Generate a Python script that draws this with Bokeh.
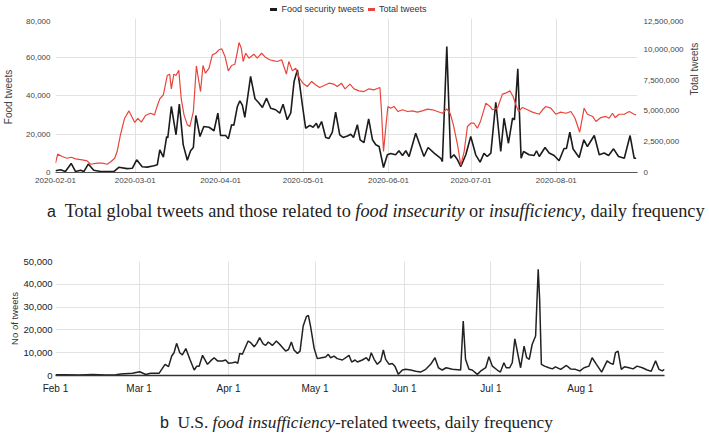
import math
import pandas as pd
from bokeh.plotting import figure
from bokeh.models import (LinearAxis, Range1d, FixedTicker, NumeralTickFormatter, Div)
from bokeh.layouts import column
from bokeh.embed import file_html
from bokeh.resources import INLINE

# ---------------- data ----------------
START = "2020-02-01"
month_ticks = ["2020-02-01", "2020-03-01", "2020-04-01", "2020-05-01",
               "2020-06-01", "2020-07-01", "2020-08-01"]
top_tick_labels = month_ticks
bottom_tick_labels = ["Feb 1", "Mar 1", "Apr 1", "May 1", "Jun 1", "Jul 1", "Aug 1"]
series_names = ["Food security tweets", "Total tweets"]
series_colors = ["#1c1c1c", "#e8453c"]

# days since 2020-02-01
food_days = [0, 1.8, 3.6, 5.7, 7.3, 9.1, 10.3, 11.9, 13.9, 16.4, 21.2, 23, 26, 27.9, 29.5,
             31.5, 33.3, 35.8, 37, 37.9, 39.2, 40.4, 40.8, 42.1, 43.8, 45, 46.4, 47.9, 49.1,
             50.1, 51, 52.5, 53.9, 55.8, 57.6, 59, 60, 61.8, 62.8, 64, 64.8, 66.1, 67, 67.9,
             68.8, 70.9, 72.5, 73.7, 75.2, 76.7, 78.2, 80, 81.5, 82.7, 84.2, 85.5, 86.7, 87.9,
             88.7, 89.7, 90.9, 92.4, 93.6, 94.8, 95.5, 96.7, 98.2, 99.4, 100.6, 101.8, 103.3,
             104.5, 106.1, 107.3, 108.3, 109.7, 110.7, 112.1, 113.8, 115.2, 116.4, 117.6,
             119.2, 120.6, 121.8, 123.6, 124.8, 126.1, 127.3, 128.5, 130.9, 132.7, 133.9,
             135.4, 137.6, 140, 140.6, 142.2, 143.6, 144.8, 146.1, 147.3, 149.1, 150.9,
             152.7, 154.3, 155.7, 156.9, 158.2, 160, 161.8, 163, 164.6, 166.1, 166.8, 168,
             169.2, 170.1, 172.1, 173.9, 174.8, 175.8, 177.9, 179.4, 181.2, 183, 184.8,
             185.7, 186.9, 188.1, 190.3, 192, 193.3, 195.8, 197.6, 199.4, 201, 202.8, 204.6,
             206.7, 208.8, 210.3, 211]
food_tweets = [900, 1400, 500, 4700, 500, 1200, 500, 4400, 1200, 500, 500, 2700, 2000, 2200,
               6600, 3000, 2800, 3500, 4000, 11800, 8000, 18700, 18000, 34300, 19600, 35500,
               14500, 6400, 11300, 13000, 29600, 18700, 23900, 23500, 21700, 30800, 19200,
               19200, 17500, 24800, 24500, 34300, 37200, 35000, 28600, 49900, 38300, 36500,
               33800, 38600, 33400, 32600, 30800, 35500, 27400, 31000, 47300, 53300, 46000,
               35200, 23000, 24500, 23500, 25600, 23000, 26500, 18200, 17700, 21000, 31300,
               19600, 18200, 19000, 19900, 18200, 24800, 17000, 15500, 27900, 17000, 14400,
               13500, 2600, 9200, 9900, 9200, 11300, 8800, 11300, 8300, 20400, 13100, 8300,
               13000, 10100, 7400, 5700, 65500, 7400, 9200, 6600, 3100, 9200, 18700, 9200,
               5400, 9900, 8300, 10100, 36500, 10900, 28200, 15200, 28200, 27400, 53900,
               7400, 10900, 9200, 8800, 11300, 8300, 13000, 10100, 8800, 6100, 12500, 12500,
               20900, 12200, 7800, 17000, 13500, 19200, 9200, 10100, 8800, 12300, 8300, 7400,
               19200, 7400, 7400]

total_days = [0, 0.8, 2.4, 4.2, 5.7, 7.3, 9.7, 11.5, 12.7, 15.2, 17, 18.8, 20.2, 21.5, 22.4,
              23.6, 25.1, 26.7, 27.9, 28.8, 29.9, 31.2, 32.7, 34.5, 36, 36.7, 37.9, 39.2,
              40.6, 41.5, 42.1, 43, 43.8, 44.8, 45.7, 46.7, 47.9, 48.8, 50.1, 51.2, 51.9,
              52.7, 53.6, 54.5, 55.8, 57, 58.2, 59.4, 60.4, 61.6, 62.8, 64, 65.2, 66.1, 66.7,
              67.5, 68.2, 69.1, 70.3, 72.1, 73.3, 74.9, 76.4, 77.8, 79.4, 80.6, 82.2, 83,
              83.9, 84.8, 86.1, 87.3, 88.5, 89.9, 91.5, 93.1, 94.5, 96, 97.6, 99.4, 101.2,
              102.4, 103.9, 105.2, 107, 108.5, 110.3, 112.1, 113.9, 115.7, 117.2, 117.9,
              118.4, 119.2, 120, 120.8, 121.8, 123, 124.5, 126.1, 127.9, 129.7, 131.5, 133.3,
              135.2, 137, 138.8, 140.6, 142.2, 143.4, 144.6, 146.1, 147.3, 148.5, 149.7,
              150.9, 152.1, 153.3, 154.5, 156.4, 157.9, 158.8, 160.6, 162.4, 163.6, 165.1,
              166.3, 167.3, 168.3, 169.7, 171.5, 173.3, 175.8, 177, 178.2, 180, 181.8, 183.6,
              185.5, 187.3, 188.8, 190.5, 192.1, 193.3, 195.2, 196.4, 198.2, 200, 201.2,
              202.4, 203.4, 204.8, 206.7, 208.5, 210.3, 211]
total_tweets = [755e3, 1.49e6, 1.30e6, 1.16e6, 1.24e6, 1.11e6, 1.03e6, 0.95e6, 0.67e6,
                0.76e6, 0.76e6, 0.67e6, 0.89e6, 1.16e6, 1.70e6, 3.06e6, 4.40e6, 5.00e6,
                4.46e6, 4.06e6, 4.40e6, 4.09e6, 4.63e6, 4.81e6, 4.68e6, 5.22e6, 5.98e6,
                6.31e6, 7.87e6, 7.98e6, 6.79e6, 7.98e6, 7.87e6, 8.30e6, 5.98e6, 4.68e6,
                3.87e6, 3.73e6, 4.95e6, 8.65e6, 7.65e6, 6.57e6, 8.69e6, 8.06e6, 8.47e6,
                9.55e6, 9.68e6, 9.96e6, 10.04e6, 9.42e6, 8.25e6, 8.69e6, 8.79e6, 9.82e6,
                10.55e6, 10.09e6, 9.01e6, 9.68e6, 9.28e6, 9.60e6, 9.28e6, 9.68e6, 9.33e6,
                9.15e6, 9.06e6, 9.01e6, 9.15e6, 8.60e6, 7.98e6, 9.01e6, 8.25e6, 8.47e6,
                7.71e6, 7.25e6, 6.98e6, 7.39e6, 7.12e6, 6.90e6, 7.06e6, 7.25e6, 7.17e6,
                6.98e6, 7.25e6, 6.79e6, 7.17e6, 6.79e6, 6.63e6, 6.57e6, 6.79e6, 6.71e6,
                6.84e6, 6.90e6, 5.22e6, 1.70e6, 3.60e6, 5.36e6, 5.22e6, 5.36e6, 4.95e6,
                5.09e6, 4.95e6, 5.00e6, 4.90e6, 5.00e6, 5.14e6, 5.09e6, 4.95e6, 4.81e6,
                5.17e6, 4.81e6, 3.87e6, 2.25e6, 0.57e6, 1.70e6, 3.73e6, 4.00e6, 4.00e6,
                3.60e6, 4.19e6, 5.63e6, 5.36e6, 5.09e6, 5.22e6, 6.36e6, 6.44e6, 6.63e6,
                6.17e6, 5.49e6, 4.95e6, 5.28e6, 5.09e6, 4.90e6, 4.73e6, 5.09e6, 5.36e6,
                5.22e6, 4.73e6, 4.90e6, 4.81e6, 4.95e6, 4.40e6, 3.27e6, 5.22e6, 4.73e6,
                4.55e6, 4.14e6, 4.46e6, 4.55e6, 4.40e6, 4.81e6, 4.46e6, 4.73e6, 4.73e6,
                4.95e6, 4.73e6, 4.68e6]

us_days = [0, 3.6, 8.2, 12.8, 17.4, 20.9, 22.6, 26.7, 29.2, 31.3, 33, 35.9, 38, 39.2, 40.3,
           41.1, 42, 43.1, 44, 45.2, 46.6, 48.1, 49, 49.8, 51, 52.7, 53.8, 55, 56.2, 57.9,
           59, 60, 61.4, 62.5, 63.2, 63.9, 64.8, 66.8, 67.7, 68.9, 69.8, 70.8, 72, 72.9,
           73.8, 75.2, 76.6, 78.1, 79.8, 80.8, 81.8, 82.7, 83.9, 84.8, 85.9, 87, 87.7, 88.5,
           89.7, 90.8, 92.3, 93.7, 94.6, 95.4, 96.6, 97.7, 99.5, 101.8, 102.7, 103.9, 104.7,
           106.4, 107.8, 108.7, 109.5, 110.5, 111.6, 112.8, 113.7, 114.5, 115.7, 116.8,
           117.7, 118.9, 120.3, 121.4, 123.2, 124.9, 126.6, 128.4, 130.1, 131.6, 132.8,
           134.1, 135.5, 137.6, 140.5, 141.4, 142.2, 143.4, 144.5, 146.3, 147.4, 149.2,
           150.3, 151.5, 153.2, 154.3, 155.5, 156.3, 157.5, 158.4, 159.3, 160.4, 161.3,
           162.5, 163.4, 164.3, 165.3, 166.5, 167.4, 167.9, 168.5, 169.6, 171.1, 172.3,
           173.4, 175.2, 177.2, 178.6, 180.3, 181.9, 183.3, 185, 186.1, 187.6, 189.4, 191.3,
           192.5, 193.4, 194.2, 195.1, 196.2, 197.3, 198.9, 200.3, 201.7, 203.5, 205.2,
           206.6, 208.1, 209.3, 210.4, 211.2]
us_tweets = [300, 300, 250, 400, 250, 300, 650, 950, 1650, 440, 950, 950, 4900, 3900, 8550,
             10000, 14100, 10000, 9000, 11800, 7100, 2400, 4100, 4100, 8850, 4900, 6400, 7800,
             6400, 6400, 6800, 5350, 5600, 5900, 5350, 9700, 9300, 15100, 14400, 12600, 14100,
             16600, 13900, 13200, 14700, 13200, 15100, 13200, 10700, 11400, 14700, 11200,
             9700, 10700, 21700, 25800, 26400, 21200, 11900, 7400, 7800, 8100, 9300, 7800,
             8500, 7400, 6800, 8850, 5900, 6800, 5900, 6800, 7800, 6400, 10000, 7100, 4900,
             6400, 11200, 7100, 4900, 5300, 4100, 500, 2400, 2700, 2400, 1900, 1500, 2700,
             4900, 7800, 3400, 2400, 3400, 2700, 2400, 23900, 7100, 2700, 2400, 500, 1900,
             3400, 8250, 4100, 2400, 1500, 5600, 3400, 3400, 5600, 16100, 9000, 3400, 12900,
             7800, 7100, 13600, 17300, 46600, 33400, 4900, 4100, 3400, 2900, 3800, 2700, 4400,
             2900, 2700, 2000, 3400, 4100, 7800, 4900, 1500, 6400, 5300, 4900, 10000, 10700,
             2700, 3800, 3400, 2900, 4100, 3400, 2400, 1900, 6400, 2700, 2000, 2700]

food_ticks = [0, 20000, 40000, 60000, 80000]
total_ticks = [0, 2500000, 5000000, 7500000, 10000000, 12500000]
us_ticks = [0, 10000, 20000, 30000, 40000, 50000]

tick_days = [(pd.Timestamp(d) - pd.Timestamp(START)).days for d in month_ticks]

SANS = "Liberation Sans"
GRID = "#e2e2e2"


def style_axis(ax, tick_size, tick_color, label_size, label_color):
    ax.major_tick_line_color = None
    ax.minor_tick_line_color = None
    ax.major_tick_out = 0
    ax.major_tick_in = 0
    ax.minor_tick_out = 0
    ax.minor_tick_in = 0
    ax.major_label_text_font = SANS
    ax.major_label_text_font_size = tick_size
    ax.major_label_text_color = tick_color
    ax.axis_label_text_font = SANS
    ax.axis_label_text_font_size = label_size
    ax.axis_label_text_font_style = "normal"
    ax.axis_label_text_color = label_color


# ---------------- legend (above panel a) ----------------
legend_html = "".join(
    "<span style=\"display:inline-block;width:7px;height:3px;background:%s;"
    "vertical-align:middle;margin:0 4px 1px 4px;\"></span>%s" % (c, n)
    for n, c in zip(series_names, series_colors))
legend_div = Div(text=("<div style=\"font-family:'Liberation Sans',sans-serif;font-size:9px;"
                       "line-height:11px;color:#333;white-space:nowrap;width:681px;"
                       "padding-left:12px;padding-top:1px;text-align:center;\">"
                       + legend_html + "</div>"),
                 width=693, height=18, margin=(0, 0, 0, 0))

# ---------------- panel a ----------------
p1 = figure(frame_width=582, frame_height=154, output_backend="svg", toolbar_location=None,
            x_range=Range1d(0, 211.5), y_range=Range1d(0, 80000),
            min_border_left=47, min_border_right=60, min_border_top=0,
            min_border_bottom=21)
p1.outline_line_color = None
p1.extra_y_ranges = {"total": Range1d(0, 12500000)}

p1.line(food_days, food_tweets, line_color=series_colors[0], line_width=1.6)
p1.line(total_days, total_tweets, line_color=series_colors[1], line_width=1.2,
        y_range_name="total")

p1.xaxis.ticker = FixedTicker(ticks=tick_days)
p1.xaxis.major_label_overrides = {d: lab for d, lab in zip(tick_days, top_tick_labels)}
p1.yaxis.ticker = FixedTicker(ticks=food_ticks)
p1.yaxis.formatter = NumeralTickFormatter(format="0,0")
p1.yaxis.axis_label = "Food  tweets"

ax_r = LinearAxis(y_range_name="total", ticker=FixedTicker(ticks=total_ticks),
                  formatter=NumeralTickFormatter(format="0,0"), axis_label="Total  tweets")
p1.add_layout(ax_r, "right")
ax_r.axis_label_orientation = math.pi / 2

for ax in [p1.xaxis[0], p1.yaxis[0], ax_r]:
    style_axis(ax, "8px", "#444444", "10px", "#444444")
p1.xaxis.axis_line_color = "#555555"
p1.xaxis.major_label_standoff = 5
p1.yaxis.axis_line_color = None
p1.yaxis.major_label_standoff = 5
p1.yaxis.axis_label_standoff = 9
ax_r.axis_line_color = None
ax_r.major_label_standoff = 6
ax_r.axis_label_standoff = 8

p1.xgrid.grid_line_color = GRID
p1.ygrid.grid_line_color = GRID

# ---------------- caption a ----------------
cap_a = Div(text=("<div style=\"font-family:'Liberation Serif',serif;font-size:18.3px;"
                  "color:#222;white-space:nowrap;padding-top:5px;padding-left:47px;"
                  "text-align:left;\">"
                  "<span style=\"font-family:'Liberation Sans',sans-serif;font-size:16px;\">a</span>"
                  "&nbsp; Total global tweets and those related to <i>food insecurity</i> or "
                  "<i>insufficiency</i>, daily frequency</div>"),
            width=693, height=32, margin=(0, 0, 0, 0))

# ---------------- panel b ----------------
p2 = figure(frame_width=609, frame_height=114, output_backend="svg", toolbar_location=None,
            x_range=Range1d(0, 211.2), y_range=Range1d(0, 50000),
            min_border_left=43, min_border_right=30, min_border_top=36,
            min_border_bottom=28)
p2.outline_line_color = None
p2.line(us_days, us_tweets, line_color="#222222", line_width=1.5)

p2.xaxis.ticker = FixedTicker(ticks=tick_days)
p2.xaxis.major_label_overrides = {d: lab for d, lab in zip(tick_days, bottom_tick_labels)}
p2.yaxis.ticker = FixedTicker(ticks=us_ticks)
p2.yaxis.formatter = NumeralTickFormatter(format="0,0")
p2.yaxis.axis_label = "No of tweets"
style_axis(p2.xaxis[0], "10px", "#222222", "9.5px", "#333333")
style_axis(p2.yaxis[0], "9.5px", "#222222", "9.5px", "#333333")
p2.xaxis.axis_line_color = "#333333"
p2.xaxis.axis_line_width = 1.5
p2.xaxis.major_label_standoff = 7
p2.yaxis.axis_line_color = None
p2.yaxis.major_label_standoff = 3
p2.yaxis.axis_label_standoff = 0
p2.xgrid.grid_line_color = GRID
p2.ygrid.grid_line_color = GRID

# ---------------- caption b ----------------
cap_b = Div(text=("<div style=\"font-family:'Liberation Serif',serif;font-size:17.3px;"
                  "color:#222;white-space:nowrap;padding-top:8px;padding-left:160px;"
                  "text-align:left;\">"
                  "<span style=\"font-family:'Liberation Sans',sans-serif;font-size:16px;\">b</span>"
                  "&nbsp; U.S. <i>food insufficiency</i>-related tweets, daily frequency</div>"),
            width=693, height=24, margin=(0, 0, 0, 0))

layout = column(legend_div, p1, cap_a, p2, cap_b, spacing=0)
open("out.html", "w").write(file_html(layout, INLINE))
